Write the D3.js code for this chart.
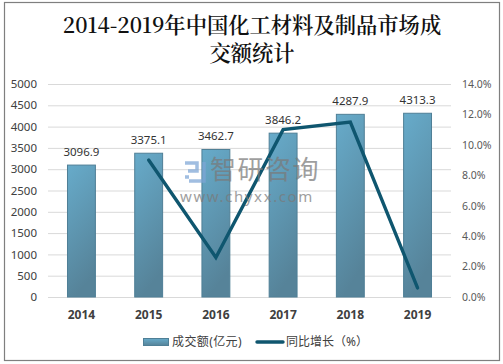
<!DOCTYPE html>
<html>
<head>
<meta charset="utf-8">
<script src="https://cdnjs.cloudflare.com/ajax/libs/d3/7.8.5/d3.min.js"></script>
<style>
  html, body { margin: 0; padding: 0; background: #fff; }
  svg { display: block; }
  text { font-family: "Noto Sans", "Noto Sans CJK SC", sans-serif; }
</style>
</head>
<body>
<div id="chart"></div>
<script>
// Data
const years = ['2014', '2015', '2016', '2017', '2018', '2019'];
const turnover = [3096.9, 3375.1, 3462.7, 3846.2, 4287.9, 4313.3];
const growth = [null, 9.0, 2.6, 11.0, 11.5, 0.6];
const leftTicks = [0, 500, 1000, 1500, 2000, 2500, 3000, 3500, 4000, 4500, 5000];
const rightTicks = [0, 2, 4, 6, 8, 10, 12, 14];
const titleLines = ['2014-2019年中国化工材料及制品市场成', '交额统计'];

const width = 503, height = 364;
const margin = {top: 84, right: 52, bottom: 67, left: 48};

const svg = d3.select('#chart').append('svg')
    .attr('width', width)
    .attr('height', height);

// Gradient for the bars
const defs = svg.append('defs');
const grad = defs.append('linearGradient')
    .attr('id', 'barFill')
    .attr('x1', 0).attr('y1', 0).attr('x2', 0.25).attr('y2', 1);
grad.append('stop').attr('offset', '0%').attr('stop-color', '#67abca');
grad.append('stop').attr('offset', '100%').attr('stop-color', '#568399');

const legendGrad = defs.append('linearGradient')
    .attr('id', 'legendFill')
    .attr('x1', 0).attr('y1', 0).attr('x2', 0).attr('y2', 1);
legendGrad.append('stop').attr('offset', '0%').attr('stop-color', '#67abca');
legendGrad.append('stop').attr('offset', '100%').attr('stop-color', '#568399');

// Outer frame
svg.append('rect')
    .attr('x', 4.5).attr('y', 2.5)
    .attr('width', 495).attr('height', 358)
    .attr('fill', '#fff')
    .attr('stroke', '#7f7f7f')
    .attr('stroke-width', 1.2);

// Title
svg.selectAll('.title')
    .data(titleLines)
    .enter()
    .append('text')
    .attr('class', 'title')
    .attr('x', 252)
    .attr('y', (d, i) => 33 + i * 28)
    .attr('text-anchor', 'middle')
    .style('font-family', '"Noto Serif CJK SC", "Noto Sans CJK SC", serif')
    .style('font-size', '21.3px')
    .style('font-weight', 600)
    .attr('fill', '#111')
    .text(d => d);

// Scales
const x = d3.scaleBand()
    .domain(years)
    .range([margin.left, width - margin.right])
    .paddingInner(0.585)
    .paddingOuter(0.29);
const yLeft = d3.scaleLinear().domain([0, 5000]).range([height - margin.bottom, margin.top]);
const yRight = d3.scaleLinear().domain([0, 14]).range([height - margin.bottom, margin.top]);

// Gridlines
svg.append('g')
    .selectAll('line')
    .data(leftTicks)
    .enter()
    .append('line')
    .attr('x1', margin.left)
    .attr('x2', width - margin.right)
    .attr('y1', d => yLeft(d) + 0.5)
    .attr('y2', d => yLeft(d) + 0.5)
    .attr('stroke', '#d9d9d9')
    .attr('stroke-width', 1);

// Left axis
const axisLeft = svg.append('g')
    .attr('transform', `translate(${margin.left},0)`)
    .call(d3.axisLeft(yLeft).tickValues(leftTicks).tickFormat(d => String(d)).tickSize(0).tickPadding(11));
axisLeft.select('.domain').remove();
axisLeft.selectAll('text')
    .style('font-family', '"Noto Sans", sans-serif')
    .style('font-size', '11.5px')
    .attr('fill', '#404040');

// Right axis
const axisRight = svg.append('g')
    .attr('transform', `translate(${width - margin.right},0)`)
    .call(d3.axisRight(yRight).tickValues(rightTicks).tickFormat(d => d.toFixed(1) + '%').tickSize(0).tickPadding(11));
axisRight.select('.domain').remove();
axisRight.selectAll('text')
    .style('font-family', '"Noto Sans", sans-serif')
    .style('font-size', '10.5px')
    .attr('fill', '#595959');

// X axis
const axisBottom = svg.append('g')
    .attr('transform', `translate(0,${height - margin.bottom})`)
    .call(d3.axisBottom(x).tickSize(0).tickPadding(13));
axisBottom.select('.domain').remove();
axisBottom.selectAll('text')
    .style('font-family', '"Noto Sans", sans-serif')
    .style('font-size', '12px')
    .style('font-weight', 700)
    .attr('fill', '#404040');

// Bars
svg.selectAll('.bar')
    .data(years)
    .enter()
    .append('rect')
    .attr('class', 'bar')
    .attr('x', d => x(d))
    .attr('width', x.bandwidth())
    .attr('y', (d, i) => yLeft(turnover[i]))
    .attr('height', (d, i) => yLeft(0) - yLeft(turnover[i]))
    .attr('fill', 'url(#barFill)')
    .attr('stroke', '#4f7f96')
    .attr('stroke-width', 1);

// Bar value labels
svg.selectAll('.bar-label')
    .data(years)
    .enter()
    .append('text')
    .attr('class', 'bar-label')
    .attr('x', d => x(d) + x.bandwidth() / 2)
    .attr('y', (d, i) => yLeft(turnover[i]) - 9)
    .attr('text-anchor', 'middle')
    .style('font-family', '"Noto Sans", sans-serif')
    .style('font-size', '11.5px')
    .attr('fill', '#333')
    .text((d, i) => turnover[i].toFixed(1));

// Growth line
const line = d3.line()
    .defined(d => d.value !== null)
    .x(d => x(d.year) + x.bandwidth() / 2)
    .y(d => yRight(d.value));
svg.append('path')
    .datum(years.map((year, i) => ({year, value: growth[i]})))
    .attr('d', line)
    .attr('fill', 'none')
    .attr('stroke', '#0f566f')
    .attr('stroke-width', 3.4)
    .attr('stroke-linecap', 'round')
    .attr('stroke-linejoin', 'miter');

// Watermark
const mark = svg.append('g').attr('opacity', 0.72);
mark.append('text')
    .attr('x', 210).attr('y', 179)
    .style('font-family', '"Noto Sans CJK SC", sans-serif')
    .style('font-size', '26px')
    .style('letter-spacing', '1.5px')
    .attr('fill', '#7a7a7a')
    .text('智研咨询');
mark.append('text')
    .attr('x', 180).attr('y', 202)
    .style('font-size', '15px')
    .style('letter-spacing', '1.6px')
    .attr('fill', '#7a7a7a')
    .text('www.chyxx.com');
mark.append('path')
    .attr('d', 'M185 163h12v8h-9 M185 177h4 M204 162v19h-15')
    .attr('fill', 'none')
    .attr('stroke', '#7ea6d6')
    .attr('stroke-width', 3.5);

// Legend
const legend = svg.append('g');
legend.append('rect')
    .attr('x', 143.5).attr('y', 338.5)
    .attr('width', 25).attr('height', 7)
    .attr('fill', 'url(#legendFill)')
    .attr('stroke', '#4f7f96');
legend.append('text')
    .attr('x', 172).attr('y', 346)
    .style('font-size', '12px')
    .style('letter-spacing', '0.4px')
    .attr('fill', '#404040')
    .text('成交额(亿元)');
legend.append('line')
    .attr('x1', 257).attr('x2', 283)
    .attr('y1', 342).attr('y2', 342)
    .attr('stroke', '#0f566f')
    .attr('stroke-width', 3.4)
    .attr('stroke-linecap', 'round');
legend.append('text')
    .attr('x', 286).attr('y', 346)
    .style('font-size', '12px')
    .attr('fill', '#404040')
    .text('同比增长（%）');
</script>
</body>
</html>
